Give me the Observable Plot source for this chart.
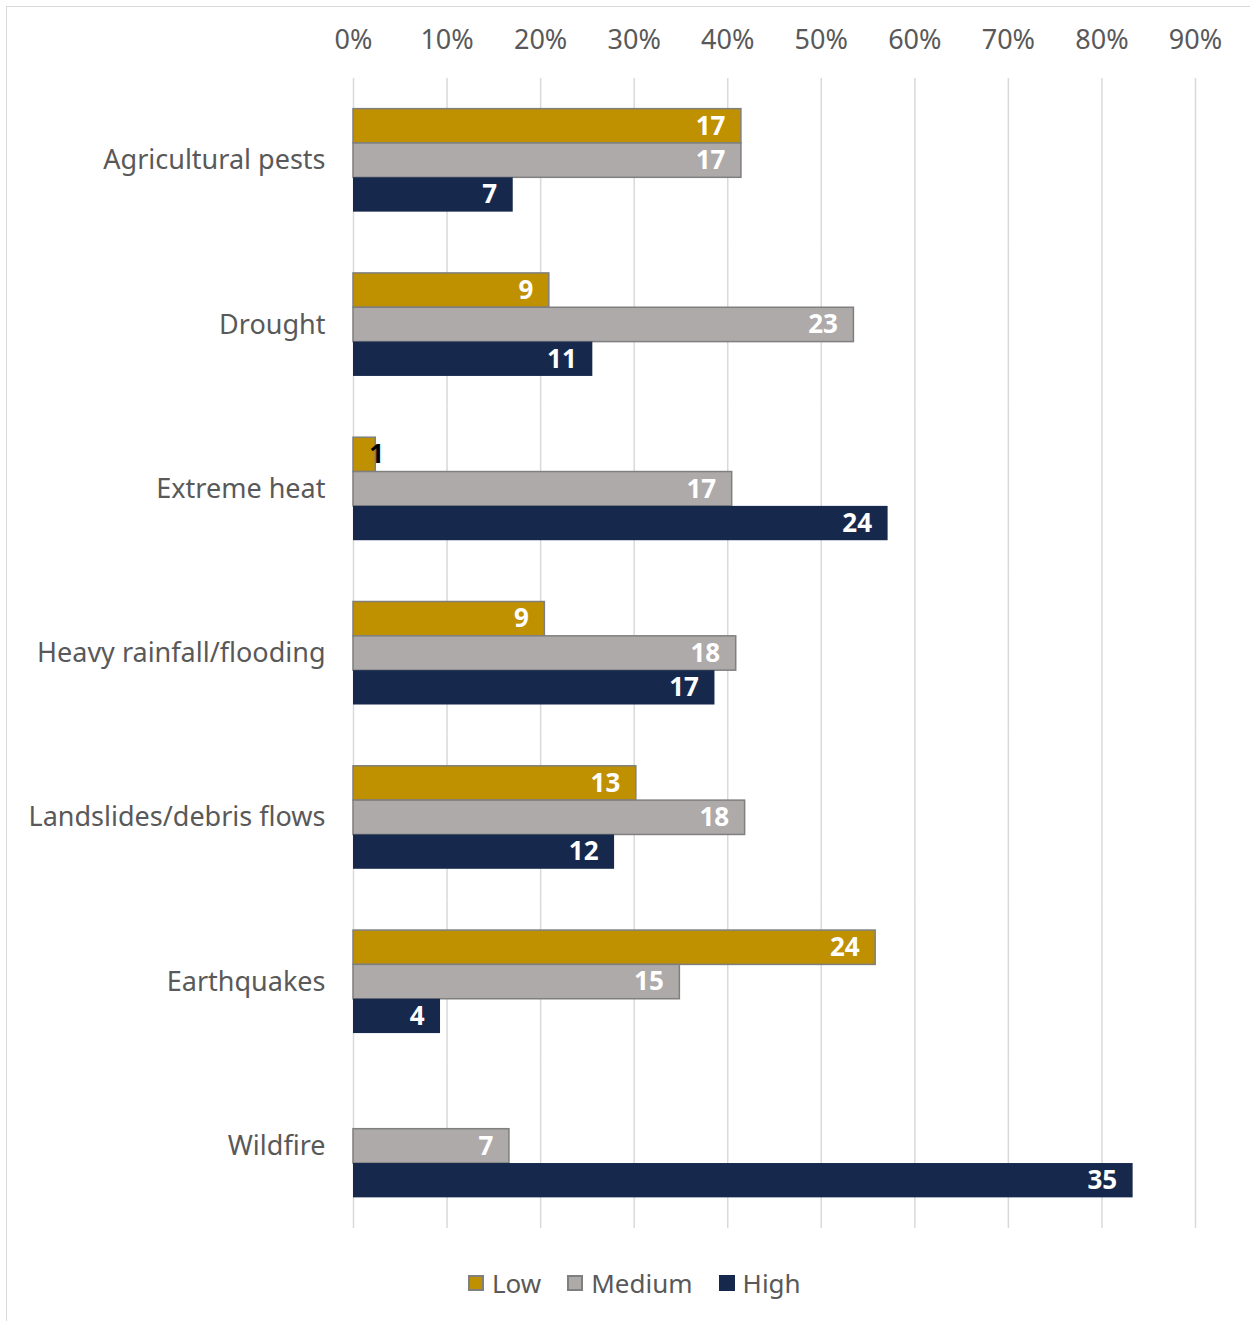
<!DOCTYPE html>
<html><head><meta charset="utf-8">
<script src="https://cdn.jsdelivr.net/npm/d3@7"></script>
<script src="https://cdn.jsdelivr.net/npm/@observablehq/plot@0.6"></script>
<style>
body{margin:0;background:#fff;}
#wrap{position:relative;width:1250px;height:1321px;overflow:hidden;font-family:"Noto Sans",sans-serif;}
#frame{position:absolute;left:6px;top:6px;width:1300px;height:1400px;border-left:1.5px solid #d9d9d9;border-top:1.5px solid #d9d9d9;pointer-events:none;}
#chart{position:absolute;left:0;top:0;}
#legend{position:absolute;left:468px;top:1265px;height:36px;display:flex;align-items:center;font-size:26px;color:#595959;}
.sw{width:16px;height:16px;box-sizing:border-box;margin-right:8px;}
.it{display:flex;align-items:center;margin-right:26px;}
</style></head><body>
<div id="wrap">
<div id="chart"></div>
<div id="frame"></div>
<div id="legend"></div>
</div>
<script>
const categories = ["Agricultural pests","Drought","Extreme heat","Heavy rainfall/flooding","Landslides/debris flows","Earthquakes","Wildfire"];
const series = ["Low","Medium","High"];
const lowCounts = [17, 9, 1, 9, 13, 24, 0];
const mediumCounts = [17, 23, 17, 18, 18, 15, 7];
const highCounts = [7, 11, 24, 17, 12, 4, 35];
const colors = ["#BF9000", "#AEAAAA", "#16294D"];
const outline = ["#7F7F7F", "#7F7F7F", "none"];
const xTicks = [0, 10, 20, 30, 40, 50, 60, 70, 80, 90];

const FONT = '"Noto Sans", sans-serif';

const rows = [];
categories.forEach((c, i) => {
  const counts = [lowCounts[i], mediumCounts[i], highCounts[i]];
  const total = d3.sum(counts);
  counts.forEach((v, j) => {
    if (v > 0) rows.push({category: c, series: series[j], count: v, pct: v / total * 100});
  });
});

const gap = 0.373 * (1150 / 7) / 2;
const barMarks = series.map((s, j) => Plot.barX(rows, {
  filter: d => d.series === s, x: "pct", y: "series",
  fill: colors[j], stroke: outline[j], strokeWidth: 1.5
}));

const chart = Plot.plot({
  width: 1250, height: 1245,
  marginLeft: 353, marginRight: 55, marginTop: 78, marginBottom: 17,
  style: {fontFamily: FONT, fontSize: "27px", color: "#595959", background: "transparent"},
  facet: {data: rows, y: "category"},
  fy: {domain: categories, paddingInner: 0.373, paddingOuter: 0.1865, round: false, label: null, tickSize: 0, tickPadding: 28},
  x: {domain: [0, 90], ticks: xTicks, tickFormat: d => d + "%", axis: "top", tickSize: 0, tickPadding: 60, label: null},
  y: {domain: series, axis: null, padding: 0, round: false},
  marks: [
    Plot.ruleX(xTicks, {x: d => d, stroke: "#D9D9D9", strokeWidth: 1.5, insetTop: -gap, insetBottom: -gap}),
    ...barMarks,
    Plot.text(rows, {filter: d => d.count >= 3, x: "pct", y: "series", text: d => String(d.count),
      textAnchor: "end", dx: -16, fill: "white", fontWeight: "bold", fontSize: 26}),
    Plot.text(rows, {filter: d => d.count < 3, x: "pct", y: "series", text: d => String(d.count),
      textAnchor: "middle", dx: 1, fill: "black", fontWeight: "bold", fontSize: 26})
  ]
});
document.getElementById("chart").appendChild(chart);

const legend = document.getElementById("legend");
series.forEach((s, j) => {
  const it = document.createElement("div"); it.className = "it";
  const sw = document.createElement("div"); sw.className = "sw";
  sw.style.background = colors[j];
  if (outline[j] !== "none") sw.style.border = "2px solid " + outline[j];
  const t = document.createElement("span"); t.textContent = s;
  it.appendChild(sw); it.appendChild(t); legend.appendChild(it);
});
</script>
</body></html>
